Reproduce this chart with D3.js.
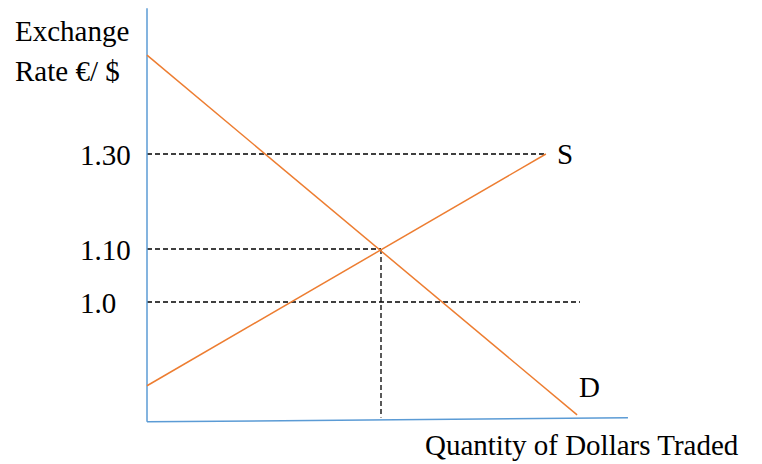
<!DOCTYPE html>
<html>
<head>
<meta charset="utf-8">
<script src="https://cdn.jsdelivr.net/npm/d3@7"></script>
<style>
  body { margin: 0; background: #fff; }
  svg text { font-family: "Liberation Serif", "Times New Roman", serif; fill: #000; }
</style>
</head>
<body>
<svg id="chart" width="762" height="464"></svg>
<script>
// exchange rate levels (the y scale is piecewise, as in the source drawing)
const rateTicks = [1.30, 1.10, 1.0];
const rateLabels = ['1.30', '1.10', '1.0'];

// curves as [quantity, rate] endpoints
const demand = [[0, 1.508], [89.6, 0.787]];
const supply = [[0, 0.842], [83.1, 1.30]];
const equilibrium = [48.75, 1.10];

// dashed guide ends
const guideEnds = [83.1, 48.75, 90.2];

const svg = d3.select('#chart');

const x = d3.scaleLinear().domain([0, 100]).range([147, 627]);
const y = d3.scaleLinear().domain([1.0, 1.10, 1.30]).range([302, 249, 154]);

const orange = '#ED7D31';
const blue = '#5B9BD5';
const fs = '29px';

// dashed guides
rateTicks.forEach((r, i) => {
  svg.append('line')
    .attr('x1', x(0)).attr('x2', x(guideEnds[i]))
    .attr('y1', y(r)).attr('y2', y(r))
    .attr('stroke', '#000').attr('stroke-width', 1.3)
    .attr('stroke-dasharray', '5,3');
});
svg.append('line')
  .attr('x1', x(equilibrium[0])).attr('x2', x(equilibrium[0]))
  .attr('y1', y(equilibrium[1])).attr('y2', y(0.782))
  .attr('stroke', '#000').attr('stroke-width', 1.3)
  .attr('stroke-dasharray', '5,3');

// axes lines
svg.append('line')
  .attr('x1', x(0)).attr('x2', x(0))
  .attr('y1', y(1.607)).attr('y2', y(0.774))
  .attr('stroke', blue).attr('stroke-width', 1.5);
svg.append('line')
  .attr('x1', x(0)).attr('x2', x(100.2))
  .attr('y1', y(0.774)).attr('y2', y(0.7815))
  .attr('stroke', blue).attr('stroke-width', 1.5);

// y tick labels
const yAxis = d3.axisLeft(y)
  .tickValues(rateTicks)
  .tickFormat((d, i) => rateLabels[i])
  .tickSize(0);
const gy = svg.append('g')
  .attr('transform', `translate(${x(0)},0)`)
  .call(yAxis);
gy.select('.domain').remove();
gy.selectAll('text')
  .attr('x', -67)
  .attr('dy', '0.35em')
  .style('text-anchor', 'start')
  .style('font-size', fs)
  .style('font-family', '"Liberation Serif", serif')
  .attr('fill', '#000');

// curves
const line = d3.line().x(d => x(d[0])).y(d => y(d[1]));
svg.append('path').datum(demand)
  .attr('d', line).attr('fill', 'none')
  .attr('stroke', orange).attr('stroke-width', 1.5);
svg.append('path').datum(supply)
  .attr('d', line).attr('fill', 'none')
  .attr('stroke', orange).attr('stroke-width', 1.5);

// labels
svg.append('text').attr('x', 557).attr('y', 164)
  .style('font-size', fs).text('S');
svg.append('text').attr('x', 579).attr('y', 397)
  .style('font-size', fs).text('D');
svg.append('text').attr('x', 15).attr('y', 41)
  .style('font-size', fs).text('Exchange');
svg.append('text').attr('x', 15).attr('y', 81)
  .style('font-size', fs).text('Rate €/ $');
svg.append('text').attr('x', 425).attr('y', 455)
  .style('font-size', fs).text('Quantity of Dollars Traded');
</script>
</body>
</html>
